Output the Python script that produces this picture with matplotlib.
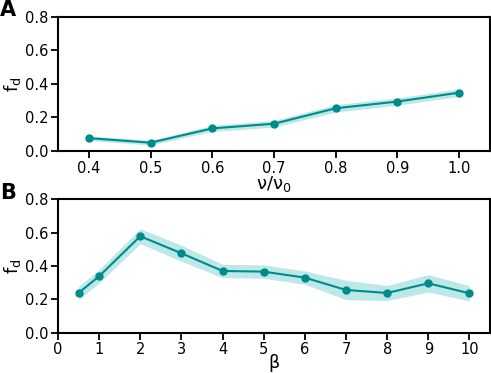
import matplotlib
matplotlib.use("Agg")
import matplotlib.pyplot as plt
import numpy as np

# panel A: f_d vs nu/nu0
nu = [0.4, 0.5, 0.6, 0.7, 0.8, 0.9, 1.0]
fd_nu = [0.077, 0.050, 0.135, 0.163, 0.255, 0.295, 0.348]
err_nu = [0.014, 0.014, 0.018, 0.020, 0.022, 0.022, 0.022]

# panel B: f_d vs beta
beta = [0.5, 1, 2, 3, 4, 5, 6, 7, 8, 9, 10]
fd_beta = [0.238, 0.338, 0.578, 0.476, 0.370, 0.366, 0.330, 0.256, 0.238, 0.296, 0.236]
err_beta = [0.040, 0.040, 0.045, 0.048, 0.040, 0.040, 0.040, 0.058, 0.045, 0.052, 0.046]

line_col = "#008b8b"
band_col = "#bde8e8"

fig = plt.figure(figsize=(4.91, 3.73), dpi=100)
axA = fig.add_axes([0.118, 0.595, 0.88, 0.36])
axB = fig.add_axes([0.118, 0.108, 0.88, 0.358])

def draw(ax, x, y, e):
    x = np.array(x); y = np.array(y); e = np.array(e)
    ax.fill_between(x, y - e, y + e, color=band_col, lw=0)
    ax.plot(x, y, "-o", color=line_col, lw=1.5, ms=5)
    ax.set_ylim(0, 0.8)
    ax.set_yticks([0.0, 0.2, 0.4, 0.6, 0.8])
    ax.set_ylabel(r"$\mathregular{f_d}$", fontsize=13, labelpad=1)
    ax.tick_params(width=1.3, length=5, labelsize=10.5, pad=2)
    for s in ax.spines.values():
        s.set_linewidth(1.5)

draw(axA, nu, fd_nu, err_nu)
axA.set_xlim(0.35, 1.05)
axA.set_xticks(nu)
axA.set_xlabel(r"$\mathregular{\nu/\nu_0}$", fontsize=13, labelpad=-1)

draw(axB, beta, fd_beta, err_beta)
axB.set_xlim(0, 10.5)
axB.set_xticks(range(11))
axB.set_xlabel(r"$\mathregular{\beta}$", fontsize=12.5, labelpad=-4)

fig.text(0.0, 1.0, "A", fontsize=15, fontweight="bold", va="top")
fig.text(0.0, 0.51, "B", fontsize=15, fontweight="bold", va="top")

fig.savefig("out.png", dpi=100)
